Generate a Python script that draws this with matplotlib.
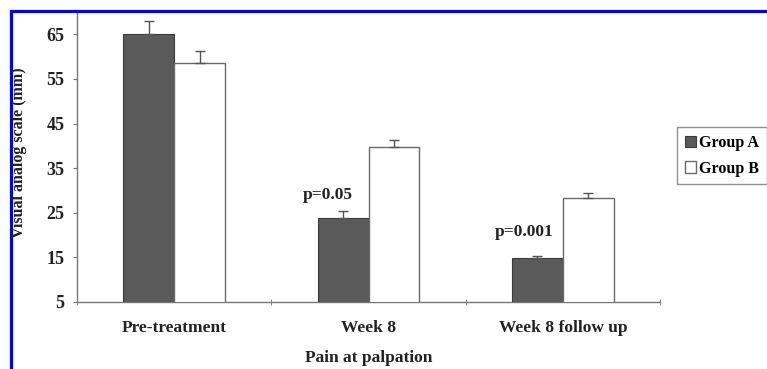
import matplotlib

matplotlib.use("Agg")
import matplotlib.pyplot as plt
import numpy as np
from matplotlib.patches import Rectangle

# Data
categories = ["Pre-treatment", "Week 8", "Week 8 follow up"]
group_a = [65.0, 23.9, 14.9]
group_b = [58.5, 39.8, 28.4]
err_a = [2.9, 1.5, 0.4]
err_b = [2.7, 1.4, 1.1]
p_labels = [(0.79, 29.0, "p=0.05"), (1.80, 20.6, "p=0.001")]
y_ticks = [5, 15, 25, 35, 45, 55, 65]

plt.rcParams["font.family"] = ["Liberation Serif", "DejaVu Serif"]
plt.rcParams["font.weight"] = "bold"

fig = plt.figure(figsize=(7.67, 3.69), dpi=100)
ax = fig.add_axes([0.1004, 0.1816, 0.7601, 0.7859])

x = np.arange(len(categories))
w = 0.262
ekw = dict(ecolor="#555555", elinewidth=1.0, capthick=1.0)
ax.bar(x - w / 2, group_a, w, color="#5a5a5a", edgecolor="#3a3a3a",
       linewidth=0.8, label="Group A",
       yerr=[np.zeros(3), err_a], capsize=3.5, error_kw=ekw, zorder=3)
ax.bar(x + w / 2, group_b, w, color="white", edgecolor="#6a6a6a",
       linewidth=1.0, label="Group B",
       yerr=[np.zeros(3), err_b], capsize=3.5, error_kw=ekw, zorder=3)

for px, py, txt in p_labels:
    ax.text(px, py, txt, ha="center", va="center", fontsize=12.5,
            fontweight="bold", color="#222222")

ax.set_xlim(-0.5, 2.5)
ax.set_ylim(5, 70)
ax.set_yticks(y_ticks)
ax.set_yticklabels([str(v) for v in y_ticks], fontsize=13, color="#222222")
ax.set_xticks(x)
ax.set_xticklabels(categories, fontsize=12.5, color="#222222")
ax.set_xticks([-0.5, 0.5, 1.5, 2.5], minor=True)
ax.tick_params(axis="x", which="major", length=0, pad=13)
ax.tick_params(axis="x", which="minor", length=4, direction="inout", color="#777777")
ax.tick_params(axis="y", length=3, color="#777777", pad=6)

for s in ["top", "right"]:
    ax.spines[s].set_visible(False)
for s in ["left", "bottom"]:
    ax.spines[s].set_color("#777777")
    ax.spines[s].set_linewidth(1.0)

fig.text(19 / 767, 1 - 153 / 369, "Visual analog scale (mm)", rotation=90,
         ha="center", va="center", fontsize=11.5, fontweight="bold",
         color="#222222")
ax.set_xlabel("Pain at palpation", fontsize=12.5, fontweight="bold",
              color="#222222", labelpad=10)

leg = ax.legend(loc="upper left", bbox_to_anchor=(0.8827, 0.656),
                bbox_transform=fig.transFigure, borderaxespad=0,
                fontsize=11.5, frameon=True, fancybox=False, handlelength=0.7,
                handleheight=0.7, handletextpad=0.2, labelspacing=0.6,
                borderpad=0.5)
leg.get_frame().set_edgecolor("#777777")
leg.get_frame().set_linewidth(1.0)

# blue frame round the figure (left and top edges visible)
fig.patches.append(Rectangle((10.5 / 767, -0.1), 1.2, 1.1 - 10.5 / 369,
                             transform=fig.transFigure, fill=False,
                             edgecolor="#0000ff", linewidth=2.3))

fig.savefig("out.png", dpi=100)
